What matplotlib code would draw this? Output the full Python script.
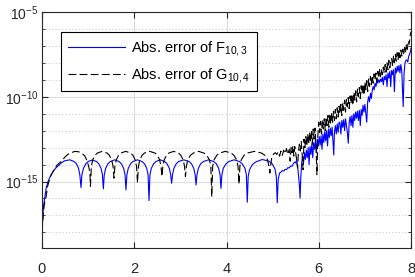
import numpy as np
import matplotlib
matplotlib.use("Agg")
import matplotlib.pyplot as plt
from matplotlib.ticker import FixedLocator, NullFormatter, LogFormatterSciNotation

plt.rcParams['font.family'] = ['Liberation Sans', 'DejaVu Sans']
plt.rcParams['mathtext.fontset'] = 'custom'
plt.rcParams['mathtext.rm'] = 'Liberation Sans'
plt.rcParams['mathtext.it'] = 'Liberation Sans'

# ---- data: x and log10(abs. error) ----
f_x = [0.0, 0.01, 0.03, 0.058, 0.09, 0.13, 0.18, 0.24, 0.3, 0.35, 0.42, 0.49, 0.6, 0.68, 0.74, 0.79, 0.82, 0.835, 0.846,
       0.865, 0.9, 0.95, 1.0, 1.09, 1.18, 1.23, 1.28, 1.31, 1.33,
       1.35, 1.38, 1.43, 1.48, 1.575, 1.67, 1.72, 1.77, 1.80, 1.82,
       1.84, 1.87, 1.92, 1.97, 2.07, 2.17, 2.22, 2.27, 2.30, 2.32,
       2.34, 2.37, 2.42, 2.47, 2.565, 2.66, 2.71, 2.76, 2.79, 2.81,
       2.83, 2.86, 2.91, 2.96, 3.075, 3.19, 3.24, 3.29, 3.32, 3.34,
       3.36, 3.39, 3.44, 3.50, 3.61, 3.72, 3.78, 3.83, 3.86, 3.88,
       3.90, 3.93, 3.99, 4.05, 4.165, 4.28, 4.34, 4.40, 4.43, 4.45,
       4.47, 4.50, 4.56, 4.63, 4.775, 4.92, 4.99, 5.05, 5.08, 5.10,
       5.12, 5.15, 5.18, 5.21, 5.24, 5.27, 5.30, 5.33, 5.36, 5.39, 5.42, 5.45, 5.48, 5.50, 5.52, 5.54, 5.56, 5.58, 5.595,
       5.61, 5.63, 5.65, 5.67, 5.69, 5.71, 5.73, 5.75, 5.77, 5.79, 5.81, 5.83, 5.85, 5.87, 5.89, 5.91, 5.93, 5.95, 5.97, 5.99,
       6.01, 6.03, 6.05, 6.07, 6.09, 6.11, 6.13, 6.15, 6.17, 6.19, 6.21, 6.23, 6.25, 6.27, 6.29, 6.31, 6.325, 6.34, 6.36, 6.38,
       6.40, 6.42, 6.44, 6.46, 6.48, 6.50, 6.52, 6.54, 6.56, 6.58, 6.60, 6.62, 6.64, 6.66, 6.68, 6.70, 6.72, 6.74, 6.76, 6.78,
       6.80, 6.82, 6.84, 6.86, 6.88, 6.90, 6.92, 6.94, 6.96, 6.98, 7.00, 7.02, 7.04, 7.06, 7.08, 7.10, 7.12, 7.14, 7.16, 7.18,
       7.20, 7.22, 7.24, 7.26, 7.28, 7.30, 7.32, 7.34, 7.36, 7.38, 7.40, 7.42, 7.44, 7.46, 7.48, 7.50, 7.52, 7.54, 7.56, 7.58,
       7.60, 7.62, 7.64, 7.66, 7.68, 7.70, 7.72, 7.74, 7.76, 7.78, 7.80, 7.815, 7.83, 7.85, 7.87, 7.89, 7.91, 7.93, 7.95, 7.97,
       7.99, 8.00]
f_log = [-18.73, -17.5, -16.5, -15.98, -15.4, -15.0, -14.7, -14.41, -14.2, -14.07, -13.9, -13.78, -13.72, -13.8, -13.92, -14.2, -14.6, -15.0, -15.35,
         -14.6, -14.22, -13.95, -13.82, -13.73, -13.82, -13.95, -14.22, -14.6, -15.43,
         -14.6, -14.22, -13.95, -13.82, -13.72, -13.82, -13.95, -14.22, -14.6, -15.49,
         -14.6, -14.22, -13.95, -13.82, -13.72, -13.82, -13.95, -14.22, -14.6, -16.12,
         -14.6, -14.22, -13.95, -13.82, -13.72, -13.82, -13.95, -14.22, -14.6, -15.1,
         -14.6, -14.22, -13.95, -13.82, -13.72, -13.82, -13.95, -14.22, -14.6, -15.2,
         -14.6, -14.22, -13.95, -13.82, -13.72, -13.82, -13.95, -14.22, -14.6, -15.4,
         -14.6, -14.22, -13.95, -13.82, -13.72, -13.82, -13.95, -14.22, -14.6, -16.22,
         -14.7, -14.3, -14.0, -13.85, -13.7, -13.8, -13.95, -14.25, -14.7, -16.25,
         -14.9, -14.5, -14.45, -14.35, -14.38, -14.28, -14.3, -14.18, -14.2, -14.08, -14.1, -13.95, -13.85, -13.9, -13.75, -14.1, -14.6, -15.2, -15.98,
         -14.8, -13.9, -13.5, -13.9, -13.3, -13.7, -13.15, -13.6, -13.0, -14.0, -12.94, -13.4, -12.8, -13.6, -12.7, -13.1, -12.55, -13.3, -12.5, -12.9,
         -12.35, -12.85, -12.3, -13.1, -12.2, -12.7, -12.05, -12.6, -12.0, -12.9, -11.9, -12.4, -11.85, -12.3, -11.8, -12.7, -13.43, -12.1, -11.7, -12.2,
         -11.6, -12.1, -11.5, -11.54, -12.2, -11.4, -11.8, -11.35, -12.0, -11.3, -11.7, -12.1, -12.74, -11.5, -11.17, -11.7, -11.1, -11.8, -11.0, -11.4,
         -10.9, -11.27, -10.85, -11.4, -10.8, -11.7, -10.75, -11.1, -10.5, -10.9, -10.45, -11.0, -11.5, -10.3, -10.0, -10.3, -9.8, -10.1, -9.6, -9.4,
         -9.6, -9.2, -9.4, -9.05, -9.2, -9.0, -9.15, -8.95, -9.1, -8.85, -9.3, -8.8, -9.0, -8.7, -9.4, -8.6, -8.9, -8.5, -9.4, -8.45,
         -8.7, -8.4, -9.7, -8.3, -8.6, -8.2, -8.5, -8.15, -8.6, -8.1, -8.5, -9.5, -10.58, -8.6, -8.0, -7.85, -7.83, -7.95, -7.6, -7.5,
         -7.3, -7.14]

g_x = [0.0, 0.01, 0.03, 0.06, 0.09, 0.12, 0.16, 0.2, 0.26, 0.32, 0.38, 0.42, 0.5, 0.56, 0.65, 0.72, 0.8, 0.87, 0.93, 0.98, 1.02, 1.04, 1.05,
       1.07, 1.10, 1.15, 1.20, 1.305, 1.41, 1.46, 1.51, 1.54, 1.56,
       1.58, 1.61, 1.66, 1.71, 1.815, 1.92, 1.97, 2.02, 2.05, 2.07,
       2.09, 2.12, 2.17, 2.22, 2.335, 2.45, 2.50, 2.55, 2.58, 2.60,
       2.62, 2.65, 2.70, 2.75, 2.855, 2.96, 3.01, 3.06, 3.09, 3.11,
       3.13, 3.16, 3.22, 3.28, 3.395, 3.51, 3.57, 3.63, 3.66, 3.68,
       3.70, 3.73, 3.79, 3.85, 3.975, 4.10, 4.16, 4.22, 4.25, 4.27,
       4.29, 4.32, 4.38, 4.45, 4.605, 4.76, 4.83, 4.89, 4.92, 4.94,
       4.96, 4.98, 5.00, 5.03, 5.06, 5.09, 5.12, 5.15, 5.18, 5.21, 5.24, 5.27, 5.30, 5.33, 5.36, 5.38, 5.40, 5.42, 5.44, 5.46,
       5.48, 5.50, 5.52, 5.54, 5.56, 5.58, 5.60, 5.62, 5.64, 5.66, 5.68, 5.70, 5.72, 5.74, 5.76, 5.78, 5.80, 5.82, 5.84, 5.86,
       5.88, 5.90, 5.92, 5.94, 5.96, 5.98, 6.00, 6.02, 6.04, 6.06, 6.08, 6.10, 6.12, 6.14, 6.16, 6.18, 6.20, 6.22, 6.24, 6.26,
       6.28, 6.30, 6.32, 6.34, 6.36, 6.38, 6.40, 6.42, 6.44, 6.46, 6.48, 6.50, 6.52, 6.54, 6.56, 6.58, 6.60, 6.62, 6.64, 6.66,
       6.68, 6.70, 6.72, 6.74, 6.76, 6.78, 6.80, 6.82, 6.84, 6.86, 6.88, 6.90, 6.92, 6.94, 6.96, 6.98, 7.00, 7.02, 7.04, 7.06,
       7.08, 7.10, 7.12, 7.14, 7.16, 7.18, 7.20, 7.22, 7.24, 7.26, 7.28, 7.30, 7.32, 7.34, 7.36, 7.38, 7.40, 7.42, 7.44, 7.46,
       7.48, 7.50, 7.52, 7.54, 7.56, 7.58, 7.60, 7.62, 7.64, 7.66, 7.68, 7.70, 7.72, 7.74, 7.76, 7.78, 7.80, 7.82, 7.84, 7.86,
       7.88, 7.90, 7.92, 7.94, 7.96, 7.98, 8.00]
g_log = [-18.6, -17.6, -16.8, -16.2, -15.9, -15.3, -14.9, -14.6, -14.3, -14.05, -13.9, -13.8, -13.55, -13.4, -13.28, -13.22, -13.25, -13.35, -13.5, -13.8, -14.2, -14.6, -15.28,
         -14.1, -13.72, -13.45, -13.32, -13.22, -13.32, -13.45, -13.72, -14.1, -14.8,
         -14.1, -13.72, -13.45, -13.32, -13.22, -13.32, -13.45, -13.72, -14.1, -15.07,
         -14.1, -13.72, -13.45, -13.32, -13.22, -13.32, -13.45, -13.72, -14.1, -14.7,
         -14.1, -13.72, -13.45, -13.32, -13.22, -13.32, -13.45, -13.72, -14.1, -14.7,
         -14.1, -13.72, -13.45, -13.32, -13.22, -13.32, -13.45, -13.72, -14.1, -15.9,
         -14.1, -13.72, -13.45, -13.32, -13.22, -13.32, -13.45, -13.72, -14.1, -15.15,
         -14.1, -13.72, -13.45, -13.32, -13.22, -13.32, -13.45, -13.72, -14.1, -14.5,
         -14.0, -13.6, -13.45, -13.35, -13.3, -13.4, -13.25, -13.5, -13.2, -13.45, -13.15, -13.35, -13.05, -13.4, -13.1, -13.8, -13.0, -13.3, -12.9, -13.5,
         -12.94, -13.3, -13.7, -14.2, -13.2, -12.8, -13.2, -12.65, -13.4, -14.3, -12.5, -13.0, -12.35, -12.9, -12.2, -12.8, -12.1, -12.7, -12.0, -12.8,
         -11.9, -12.5, -11.85, -12.9, -14.6, -12.3, -11.5, -12.1, -11.45, -12.2, -11.35, -11.9, -11.3, -12.0, -11.2, -11.7, -11.1, -11.8, -11.0, -11.6,
         -10.95, -11.5, -10.85, -11.4, -10.75, -11.3, -10.65, -11.2, -10.55, -11.0, -10.45, -11.1, -10.35, -10.8, -10.2, -10.9, -10.15, -10.6, -10.05, -10.7,
         -9.95, -10.4, -9.85, -10.5, -9.75, -10.2, -9.65, -10.3, -9.55, -10.0, -9.45, -10.1, -9.35, -9.8, -9.25, -9.9, -9.15, -9.6, -9.05, -9.7,
         -8.95, -9.4, -8.8, -9.3, -8.75, -9.2, -8.65, -9.0, -8.6, -9.1, -8.5, -8.9, -8.4, -8.8, -8.35, -8.7, -8.25, -8.6, -8.1, -8.55,
         -8.0, -8.4, -7.85, -8.3, -7.9, -7.75, -8.2, -7.6, -8.0, -7.5, -7.9, -7.4, -7.8, -7.3, -7.7, -7.25, -7.6, -7.2, -7.55, -7.1,
         -7.4, -6.9, -7.2, -6.7, -6.9, -6.4, -6.16]

labels = ['Abs. error of F$_{10,3}$', 'Abs. error of G$_{10,4}$']
x_ticks = [0, 2, 4, 6, 8]
y_major = [1e-15, 1e-10, 1e-5]

fig = plt.figure(figsize=(4.15, 2.77), dpi=100)
ax = fig.add_axes([0.1012, 0.1047, 0.8892, 0.852])

ax.plot(f_x, 10.0 ** np.array(f_log), color=(0, 0, 1), lw=0.8, label=labels[0])
ax.plot(g_x, 10.0 ** np.array(g_log), color='black', lw=0.8, dashes=(7, 3), label=labels[1])

ax.set_yscale('log')
ax.set_xlim(0, 8)
ax.set_ylim(10 ** -18.92, 1e-5)
ax.set_xticks(x_ticks)
ax.yaxis.set_major_locator(FixedLocator(y_major))
ax.yaxis.set_major_formatter(LogFormatterSciNotation())
ax.yaxis.set_minor_locator(FixedLocator([10.0 ** k for k in range(-19, -4)]))
ax.yaxis.set_minor_formatter(NullFormatter())

ax.grid(True, which='major', color='#dcdcdc', lw=0.8, ls='-')
ax.grid(True, which='minor', axis='y', color='#b0b0b0', lw=0.6, ls=(0, (1, 3)))
ax.set_axisbelow(True)

ax.tick_params(which='both', direction='in', top=True, right=True, labelsize=10.5, colors='#262626')
ax.tick_params(which='major', length=4)
ax.tick_params(which='minor', length=2.5)
ax.tick_params(axis='x', pad=10)
ax.tick_params(axis='y', pad=2.5, labelsize=10)
for s in ax.spines.values():
    s.set_color('#262626')
    s.set_linewidth(0.8)

leg = ax.legend(loc='upper left', bbox_to_anchor=(0.052, 0.915), fontsize=10.5, frameon=True, fancybox=False,
                edgecolor='black', framealpha=1, handlelength=3.9, handletextpad=0.45, borderpad=0.45,
                labelspacing=0.55, borderaxespad=0)
leg.get_frame().set_linewidth(0.8)

fig.savefig('out.png', dpi=100)
